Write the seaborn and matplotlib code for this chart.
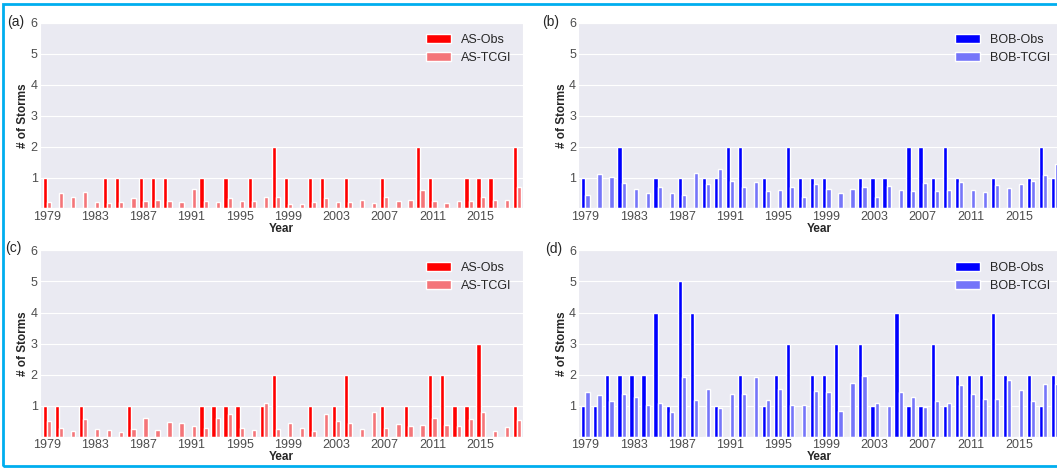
import numpy as np
import pandas as pd
import matplotlib
matplotlib.use("Agg")
import matplotlib.pyplot as plt
from matplotlib.patches import Rectangle
from matplotlib.colors import to_rgb
import seaborn as sns

# years shown in every panel
years = list(range(1979, 2019))

# (a) Arabian Sea
as_obs_a = [1, 0, 0, 0, 0, 1, 1, 0, 1, 1,
            1, 0, 0, 1, 0, 1, 0, 1, 0, 2,
            1, 0, 1, 1, 0, 1, 0, 0, 1, 0,
            0, 2, 1, 0, 0, 1, 1, 1, 0, 2]
as_tcgi_a = [0.20, 0.51, 0.36, 0.52, 0.21, 0.18, 0.22, 0.33, 0.25, 0.28,
             0.25, 0.20, 0.63, 0.24, 0.22, 0.35, 0.23, 0.24, 0.38, 0.36,
             0.16, 0.13, 0.22, 0.33, 0.22, 0.22, 0.29, 0.18, 0.36, 0.24,
             0.26, 0.60, 0.25, 0.18, 0.23, 0.24, 0.36, 0.29, 0.27, 0.70]

# (b) Bay of Bengal
bob_obs_b = [1, 0, 0, 2, 0, 0, 1, 0, 1, 0,
             1, 1, 2, 2, 0, 1, 0, 2, 1, 1,
             1, 0, 0, 1, 1, 1, 0, 2, 2, 1,
             2, 1, 0, 0, 1, 0, 0, 1, 2, 1]
bob_tcgi_b = [0.42, 1.12, 1.03, 0.82, 0.63, 0.49, 0.69, 0.49, 0.43, 1.16,
              0.78, 1.29, 0.90, 0.69, 0.87, 0.57, 0.60, 0.68, 0.36, 0.80,
              0.64, 0.49, 0.64, 0.68, 0.36, 0.73, 0.60, 0.55, 0.82, 0.55,
              0.60, 0.86, 0.59, 0.53, 0.76, 0.66, 0.79, 0.90, 1.08, 1.44]

# (c) Arabian Sea
as_obs_c = [1, 1, 0, 1, 0, 0, 0, 1, 0, 0,
            0, 0, 0, 1, 1, 1, 1, 0, 1, 2,
            0, 0, 1, 0, 1, 2, 0, 0, 1, 0,
            1, 0, 2, 2, 1, 1, 3, 0, 0, 1]
as_tcgi_c = [0.52, 0.29, 0.19, 0.57, 0.24, 0.22, 0.16, 0.24, 0.61, 0.22,
             0.46, 0.43, 0.35, 0.29, 0.59, 0.72, 0.27, 0.20, 1.10, 0.24,
             0.43, 0.27, 0.18, 0.73, 0.50, 0.43, 0.24, 0.78, 0.29, 0.41,
             0.34, 0.38, 0.59, 0.38, 0.34, 0.56, 0.80, 0.18, 0.32, 0.54]

# (d) Bay of Bengal
bob_obs_d = [1, 1, 2, 2, 2, 2, 4, 1, 5, 4,
             0, 1, 0, 2, 0, 1, 2, 3, 0, 2,
             2, 3, 0, 3, 1, 0, 4, 1, 1, 3,
             1, 2, 2, 2, 4, 2, 0, 2, 1, 2]
bob_tcgi_d = [1.44, 1.35, 1.14, 1.38, 1.28, 1.01, 1.10, 0.79, 1.92, 1.19,
              1.55, 0.93, 1.38, 1.36, 1.92, 1.19, 1.53, 1.03, 1.03, 1.47,
              1.43, 0.84, 1.73, 1.96, 1.09, 1.00, 1.45, 1.29, 0.96, 1.15,
              1.10, 1.66, 1.38, 1.23, 1.23, 1.82, 1.52, 1.16, 1.70, 1.69]

sns.set_style("darkgrid")
plt.rcParams['font.family'] = ['Liberation Sans', 'DejaVu Sans']

bg = "#EAEAF2"


def faded(color, alpha=0.5):
    # colour of a half transparent bar over the axes background
    c = np.array(to_rgb(color))
    b = np.array(to_rgb(bg))
    return tuple(alpha * c + (1 - alpha) * b)


fig = plt.figure(figsize=(10.57, 4.68), dpi=100)

panels = [
    ("(a)", "AS", as_obs_a, as_tcgi_a, "#FF0000", [0.0376, 0.5545, 0.457, 0.397], (0.0066, 0.9536)),
    ("(b)", "BOB", bob_obs_b, bob_tcgi_b, "#0000FF", [0.547, 0.5545, 0.457, 0.397], (0.513, 0.9536)),
    ("(c)", "AS", as_obs_c, as_tcgi_c, "#FF0000", [0.0376, 0.0669, 0.457, 0.398], (0.005, 0.470)),
    ("(d)", "BOB", bob_obs_d, bob_tcgi_d, "#0000FF", [0.547, 0.0669, 0.457, 0.398], (0.516, 0.468)),
]

for letter, basin, obs, tcgi, col, pos, lpos in panels:
    ax = fig.add_axes(pos)
    df = pd.DataFrame({"Year": years * 2,
                       "Storms": obs + tcgi,
                       "Series": [basin + "-Obs"] * len(years) + [basin + "-TCGI"] * len(years)})
    sns.barplot(data=df, x="Year", y="Storms", hue="Series",
                palette=[col, faded(col)], saturation=1, width=0.7,
                errorbar=None, ax=ax)
    ax.set_ylim(0, 6)
    ax.set_yticks(range(1, 7))
    ax.set_xlim(-0.6, 39.5)
    ax.set_xticks(range(0, len(years), 4), labels=[str(y) for y in years[::4]])
    ax.tick_params(labelsize=9, colors="0.3", pad=1.5, length=0)
    ax.set_xlabel("Year", fontsize=8.5, fontweight="bold", labelpad=0.5)
    ax.set_ylabel("# of Storms", fontsize=8.5, fontweight="bold", labelpad=1)
    sns.move_legend(ax, "upper right", title=None, frameon=False, fontsize=9)
    fig.text(lpos[0], lpos[1], letter, fontsize=10, va="center", ha="left")

# light blue frame round the whole figure
fig.add_artist(Rectangle((0.003, 0.0045), 1.2, 0.987, transform=fig.transFigure,
                         fill=False, edgecolor="#00AEEF", linewidth=2))

fig.savefig("out.png", dpi=100)
